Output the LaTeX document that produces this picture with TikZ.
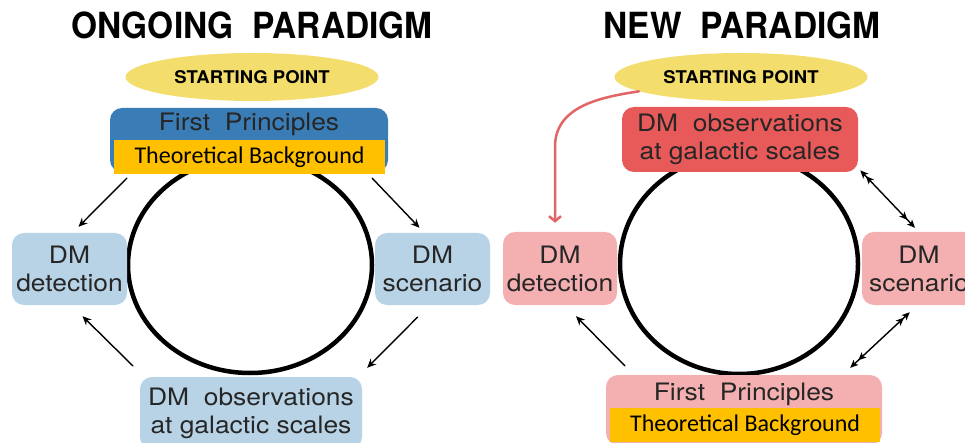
\documentclass[tikz,border=0pt]{standalone}
\usepackage{fontspec}
\usepackage{tikz}
\usetikzlibrary{arrows.meta,calc,shapes.geometric}
\newfontfamily\boxfont[FakeStretch=1.1]{TeX Gyre Heros}
\newfontfamily\titlefont[FakeStretch=0.93]{TeX Gyre Heros}
\newfontfamily\startfont[FakeStretch=1.06]{TeX Gyre Heros}
\newfontfamily\calfont{Carlito}
\definecolor{startyellow}{RGB}{243,221,109}
\definecolor{fpblue}{RGB}{58,125,182}
\definecolor{lightblue}{RGB}{184,211,230}
\definecolor{obsred}{RGB}{232,90,90}
\definecolor{lightpink}{RGB}{244,176,176}
\definecolor{bgorange}{RGB}{255,192,0}
\definecolor{curvered}{RGB}{226,100,100}
\definecolor{boxtext}{RGB}{38,38,38}

\begin{document}
\begin{tikzpicture}[x=1pt, y=-1pt, line cap=round, line join=round,
  title/.style={font=\titlefont\bfseries\fontsize{36pt}{40pt}\selectfont, inner sep=0pt},
  start/.style={ellipse, fill=startyellow, minimum width=253pt, minimum height=48pt, inner sep=0pt,
    font=\startfont\bfseries\fontsize{17.5pt}{20pt}\selectfont},
  box/.style={rounded corners=12pt, inner sep=0pt, align=center, text=boxtext,
    font=\boxfont\fontsize{24pt}{28pt}\selectfont},
  bgbar/.style={fill=bgorange, minimum width=271pt, minimum height=34pt, inner sep=0pt,
    font=\calfont\fontsize{24pt}{28pt}\selectfont},
  ring/.style={line width=4.5pt},
  arr/.style={-{Stealth[length=9pt,width=8pt,inset=3pt]}, line width=1.4pt},
  dbl/.style={{Stealth[length=8pt,width=7pt,inset=2pt,sep=3pt]Stealth[length=8pt,width=7pt,inset=2pt]}-{Stealth[length=8pt,width=7pt,inset=2pt,sep=3pt]Stealth[length=8pt,width=7pt,inset=2pt]}, line width=1.4pt}]

\useasboundingbox (0,0) rectangle (965,443);

% ongoing paradigm
\node[title] (titleA) at (252,25) {ONGOING\ \ PARADIGM};
\draw[ring] (250,265) ellipse [x radius=122pt, y radius=108pt];
\node[start] (startA) at (252,77) {STARTING POINT};
\node[box, fill=fpblue, minimum width=278pt, minimum height=64pt] (fpA) at (249,140) {};
\node[box, anchor=center] (fpAt) at ($(fpA.north)+(0,17)$) {First\ \ Principles};
\node[bgbar] (tbA) at (249.5,157) {Theoretical Background};
\node[box, fill=lightblue, minimum width=115pt, minimum height=72pt] (detA) at (69.5,269) {DM\\detection};
\node[box, fill=lightblue, minimum width=115pt, minimum height=72pt] (scnA) at (432.5,269) {DM\\scenario};
\node[box, fill=lightblue, minimum width=222pt, minimum height=72pt] (obsA) at (251,413) {DM\ \ observations\\at galactic scales};

\draw[arr] ($(fpA.south west)+(17,6)$) -- ($(detA.north)+(9,-6)$);
\draw[arr] ($(fpA.south east)+(-16,6)$) -- ($(scnA.north)+(-13,-5)$);
\draw[arr] ($(scnA.south)+(-15,12)$) -- ($(obsA.north east)+(5,-9)$);
\draw[arr] ($(obsA.north west)+(-7,-11)$) -- ($(detA.south)+(13,11)$);

% new paradigm
\node[title] (titleB) at (742,25) {NEW\ \ PARADIGM};
\draw[ring] (739,264) ellipse [x radius=119pt, y radius=110pt];
\node[start] (startB) at (741,77) {STARTING POINT};
\node[box, fill=obsred, minimum width=236pt, minimum height=65pt] (obsB) at (740,139.5) {DM\ \ observations\\at galactic scales};
\node[box, fill=lightpink, minimum width=114pt, minimum height=73pt] (detB) at (560,268.5) {DM\\detection};
\node[box, fill=lightpink, minimum width=114pt, minimum height=73pt] (scnB) at (919,268.5) {DM\\scenario};
\node[box, fill=lightpink, minimum width=276pt, minimum height=70pt] (fpB) at (744,410) {};
\node[box, anchor=center] (fpBt) at ($(fpB.north)+(0,20)$) {First\ \ Principles};
\node[bgbar, minimum width=270pt] (tbB) at (745,425) {Theoretical Background};

\draw[-{Straight Barb[length=5pt,width=12pt]}, curvered, line width=2.5pt] (startB.188) .. controls ($(startB.188)+(-40,6)$) and ($(detB.north)+(-5,-125)$) .. ($(detB.north)+(-5,-85)$) -- ($(detB.north)+(-5,-9)$);
\draw[dbl] ($(obsB.south east)+(0,-4)$) -- ($(scnB.north)+(-4,-4)$);
\draw[dbl] ($(scnB.south)+(-7,5)$) -- ($(fpB.north east)+(-32,-7)$);
\draw[arr] ($(fpB.north west)+(19,-9)$) -- ($(detB.south)+(16,11)$);
\end{tikzpicture}
\end{document}
